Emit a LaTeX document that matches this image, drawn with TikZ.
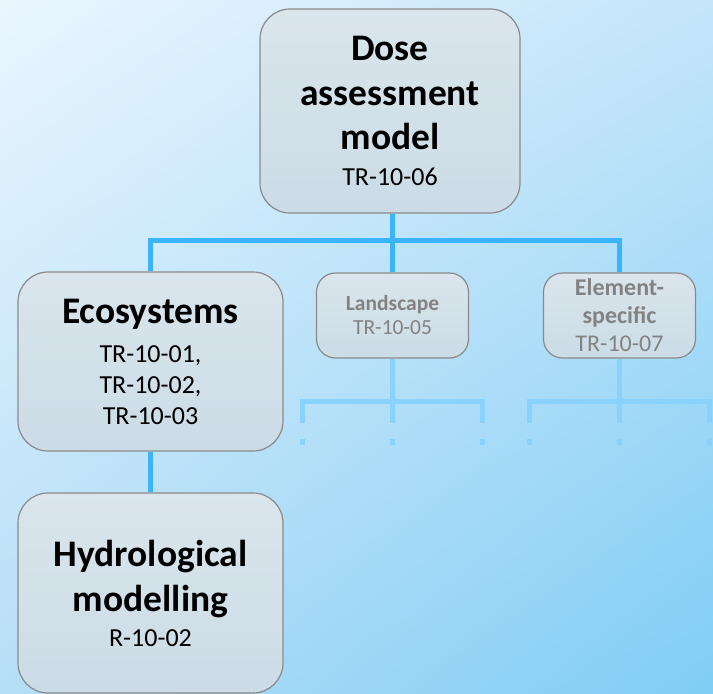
\documentclass[tikz,border=0pt]{standalone}
\usepackage{fontspec}
\setmainfont{Carlito}
\usetikzlibrary{shadings}
\definecolor{bgtl}{HTML}{EAF6FE}
\definecolor{bgtr}{HTML}{C4E5FA}
\definecolor{bgbl}{HTML}{B6DEF7}
\definecolor{bgbr}{HTML}{7FCDF5}
\definecolor{boxtop}{HTML}{DAE5EC}
\definecolor{boxbot}{HTML}{CBDCE6}
\definecolor{boxline}{HTML}{8A8A8A}
\definecolor{fadetext}{HTML}{828282}
\definecolor{linkblue}{HTML}{3AB4FD}
\definecolor{fadeblue}{HTML}{88D2FD}
\newcommand\boxtitle{\fontsize{37.5}{44}\selectfont\bfseries}
\newcommand\boxref{\fontsize{26}{31}\selectfont\mdseries}
\lineskiplimit=-100pt
\begin{document}
\begin{tikzpicture}[x=1pt,y=-1pt,
    box/.style={draw=boxline,line width=1.2pt,rounded corners=30pt,top color=boxtop,bottom color=boxbot,
        align=center,inner sep=0pt,font=\boxref},
    smallbox/.style={box,rounded corners=19pt,minimum width=152pt,minimum height=85pt,text=fadetext},
    link/.style={draw=linkblue,line width=5pt},
    fadelink/.style={draw=fadeblue,line width=5pt}]
    \useasboundingbox (0,0) rectangle (713,694);
    \shade[upper left=bgtl,upper right=bgtr,lower left=bgbl,lower right=bgbr] (0,0) rectangle (713,694);

    \node[box,minimum width=260pt,minimum height=204pt] (dose) at (390,111)
        {\boxtitle Dose\\[14pt]\boxtitle assessment\\[13pt]\boxtitle model\\[5pt]\boxref TR-10-06};
    \node[box,minimum width=265pt,minimum height=179pt] (eco) at (150.5,361.5)
        {\boxtitle Ecosystems\\[8pt]\boxref TR-10-01,\\\boxref TR-10-02,\\\boxref TR-10-03};
    \node[box,minimum width=265pt,minimum height=200pt] (hydro) at (150.5,593)
        {\boxtitle Hydrological\\[14pt]\boxtitle modelling\\[4pt]\boxref R-10-02};
    \node[smallbox,font=\fontsize{21.5}{24}\selectfont] (land) at (392.5,315.5)
        {\bfseries Landscape\\\mdseries TR-10-05};
    \node[smallbox,font=\fontsize{24}{28}\selectfont] (elem) at (619.5,315.5)
        {\bfseries Element-\\\bfseries specific\\\mdseries TR-10-07};

    % main branches
    \coordinate (hub) at (392.5,240.5);
    \draw[link] (land.north) -- (land.north |- dose.south);
    \draw[link,line join=miter] (eco.north) |- (hub) -| (elem.north);
    \draw[link] (eco.south) -- (hydro.north);

    % faded sub-branches
    \foreach \n/\cx in {land/392.5,elem/619.5}
    {
        \coordinate (\n hub) at (\cx,401.5);
        \coordinate (\n a) at (\cx-90,423);
        \coordinate (\n b) at (\cx,423);
        \coordinate (\n c) at (\cx+90,423);
        \draw[fadelink] (\n.south) -- (\n b);
        \draw[fadelink,line join=miter] (\n a) |- (\n hub) -| (\n c);
        \foreach \k in {a,b,c}
            \fill[fadeblue] ([xshift=-2.5pt,yshift=-16pt]\n\k) rectangle ++(5,6);
    }
\end{tikzpicture}
\end{document}
